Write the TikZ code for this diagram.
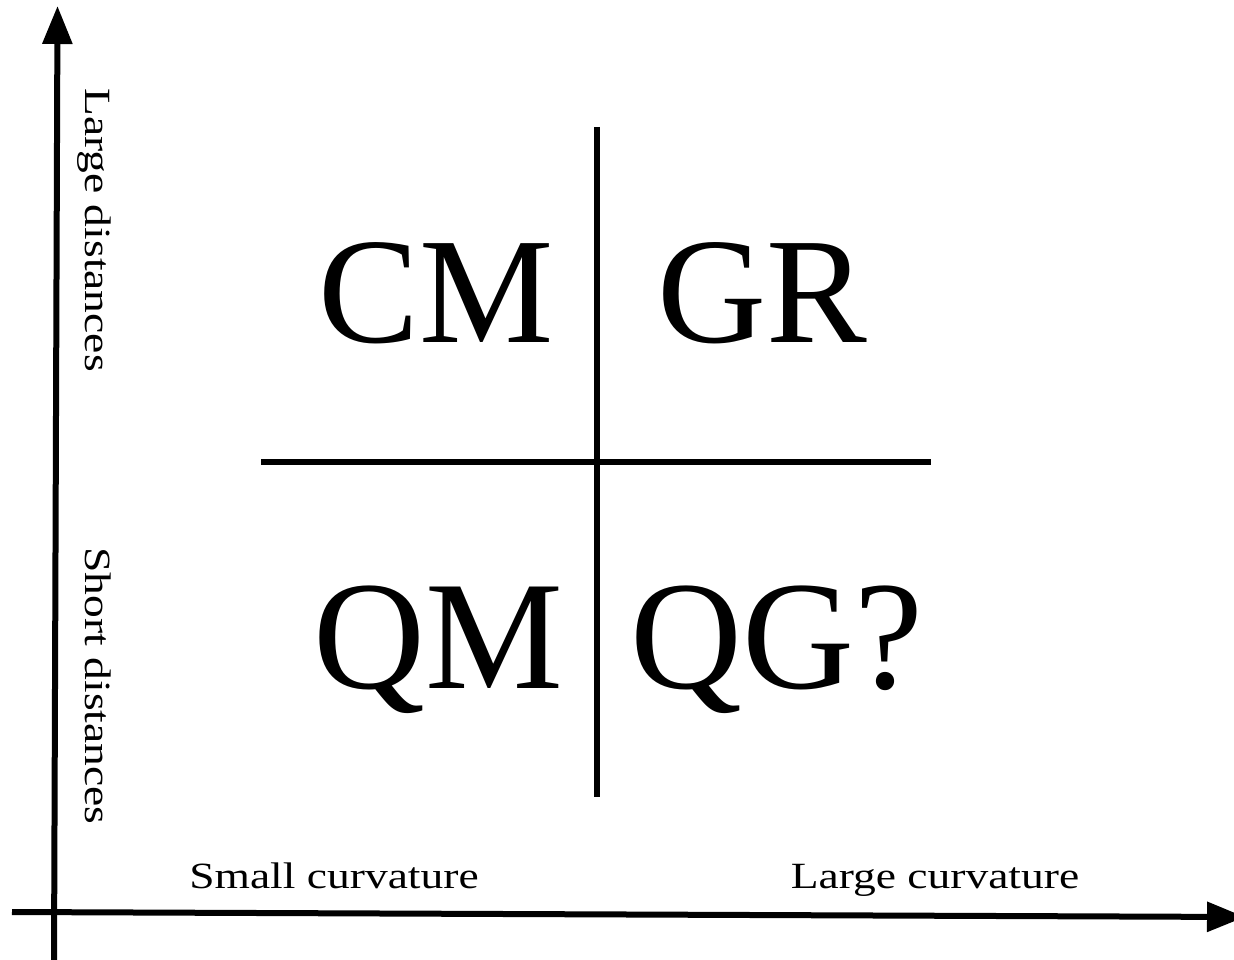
\documentclass[tikz,border=0pt]{standalone}
\usepackage{fontspec}
\setmainfont{Liberation Serif}
\usetikzlibrary{arrows.meta}
\newcommand{\widen}[1]{\scalebox{1.23}[1]{#1}}
\begin{document}
\begin{tikzpicture}[x=1pt,y=-1pt,
  axis/.style={line width=6pt,-{Triangle[length=38pt,width=29pt]}},
  divider/.style={line width=6.5pt},
  big/.style={inner sep=0pt,anchor=base,font=\fontsize{151}{160}\selectfont},
  label/.style={inner sep=0pt,anchor=base,font=\fontsize{37}{40}\selectfont}]
\useasboundingbox (0,0) rectangle (1234,960);
% axes
\coordinate (yfrom) at (54,962);
\coordinate (yto) at (57.5,6);
\coordinate (xfrom) at (12,912);
\coordinate (xto) at (1245,917);
\draw[axis] (yfrom) -- (yto);
\draw[axis] (xfrom) -- (xto);
% cross
\coordinate (vtop) at (597,127);
\coordinate (vbot) at (597,797);
\coordinate (hl) at (261,462);
\coordinate (hr) at (931,462);
\draw[divider] (vtop) -- (vbot);
\draw[divider] (hl) -- (hr);
% quadrant labels
\node[big] (cm) at (436,342) {CM};
\node[big] (gr) at (762,342) {GR};
\node[big,font=\fontsize{155}{165}\selectfont] (qm) at (438,688) {QM};
\node[big,font=\fontsize{155}{165}\selectfont] (qg) at (777,688) {QG?};
% axis labels
\node[label] (small) at (334,888) {\widen{Small curvature}};
\node[label] (large) at (935,888) {\widen{Large curvature}};
\node[label,rotate=-90] (ld) at (85,230) {\widen{Large distances}};
\node[label,rotate=-90] (sd) at (85,686) {\widen{Short distances}};
\end{tikzpicture}
\end{document}
